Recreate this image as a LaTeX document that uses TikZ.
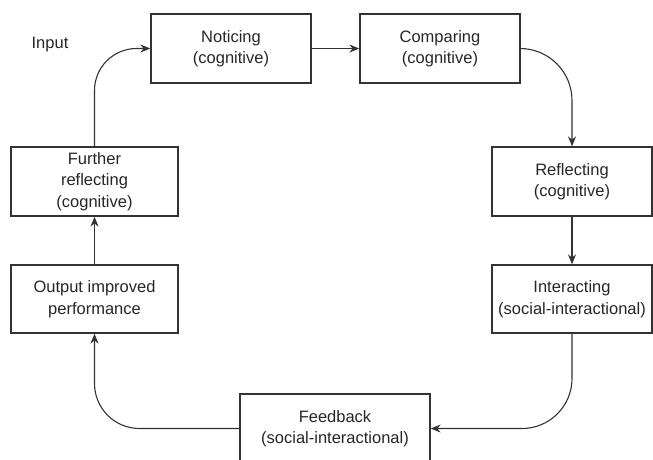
\documentclass[tikz,border=0pt]{standalone}
\usepackage{fontspec}
\setmainfont{Liberation Sans}
\usetikzlibrary{arrows.meta}
\begin{document}
\begin{tikzpicture}[x=1pt,y=-1pt,
  box/.style={draw=black!80,line width=1.3pt,rectangle,align=center,inner sep=0pt,
    font=\fontsize{16.5}{21.5}\selectfont,text=black!85},
  conn/.style={draw=black!80,line width=1.1pt,-{Stealth[length=10pt,width=8pt]}},
  lbl/.style={font=\fontsize{16.5}{21.5}\selectfont,text=black!85,inner sep=0pt}]
\useasboundingbox (0,0) rectangle (653,459);
\node[box,minimum width=160pt,minimum height=69pt] (notice) at (231,48.5) {Noticing\\(cognitive)};
\node[box,minimum width=160pt,minimum height=69pt] (compare) at (440,48.5) {Comparing\\(cognitive)};
\node[box,minimum width=160pt,minimum height=69pt] (reflect) at (572,181.5) {Reflecting\\(cognitive)};
\node[box,minimum width=160pt,minimum height=68pt] (interact) at (572,299) {Interacting\\(social-interactional)};
\node[box,minimum width=190pt,minimum height=69pt] (feedback) at (335,428.5) {Feedback\\(social-interactional)};
\node[box,minimum width=167pt,minimum height=68pt] (output) at (94.5,299) {Output improved\\performance};
\node[box,minimum width=167pt,minimum height=69pt] (further) at (94.5,181.5) {Further\\reflecting\\(cognitive)};
\node[lbl] (input) at (50,45) {Input};
\draw[conn] (notice) -- (compare);
\draw[conn,rounded corners=52pt] (compare.east) -| (reflect.north);
\draw[conn] (reflect) -- (interact);
\draw[conn,rounded corners=50pt] (interact.south) |- (feedback.east);
\draw[conn,rounded corners=45pt] (feedback.west) -| (output.south);
\draw[conn] (output) -- (further);
\draw[conn,rounded corners=42pt] (further.north) |- (notice.west);
\end{tikzpicture}
\end{document}
